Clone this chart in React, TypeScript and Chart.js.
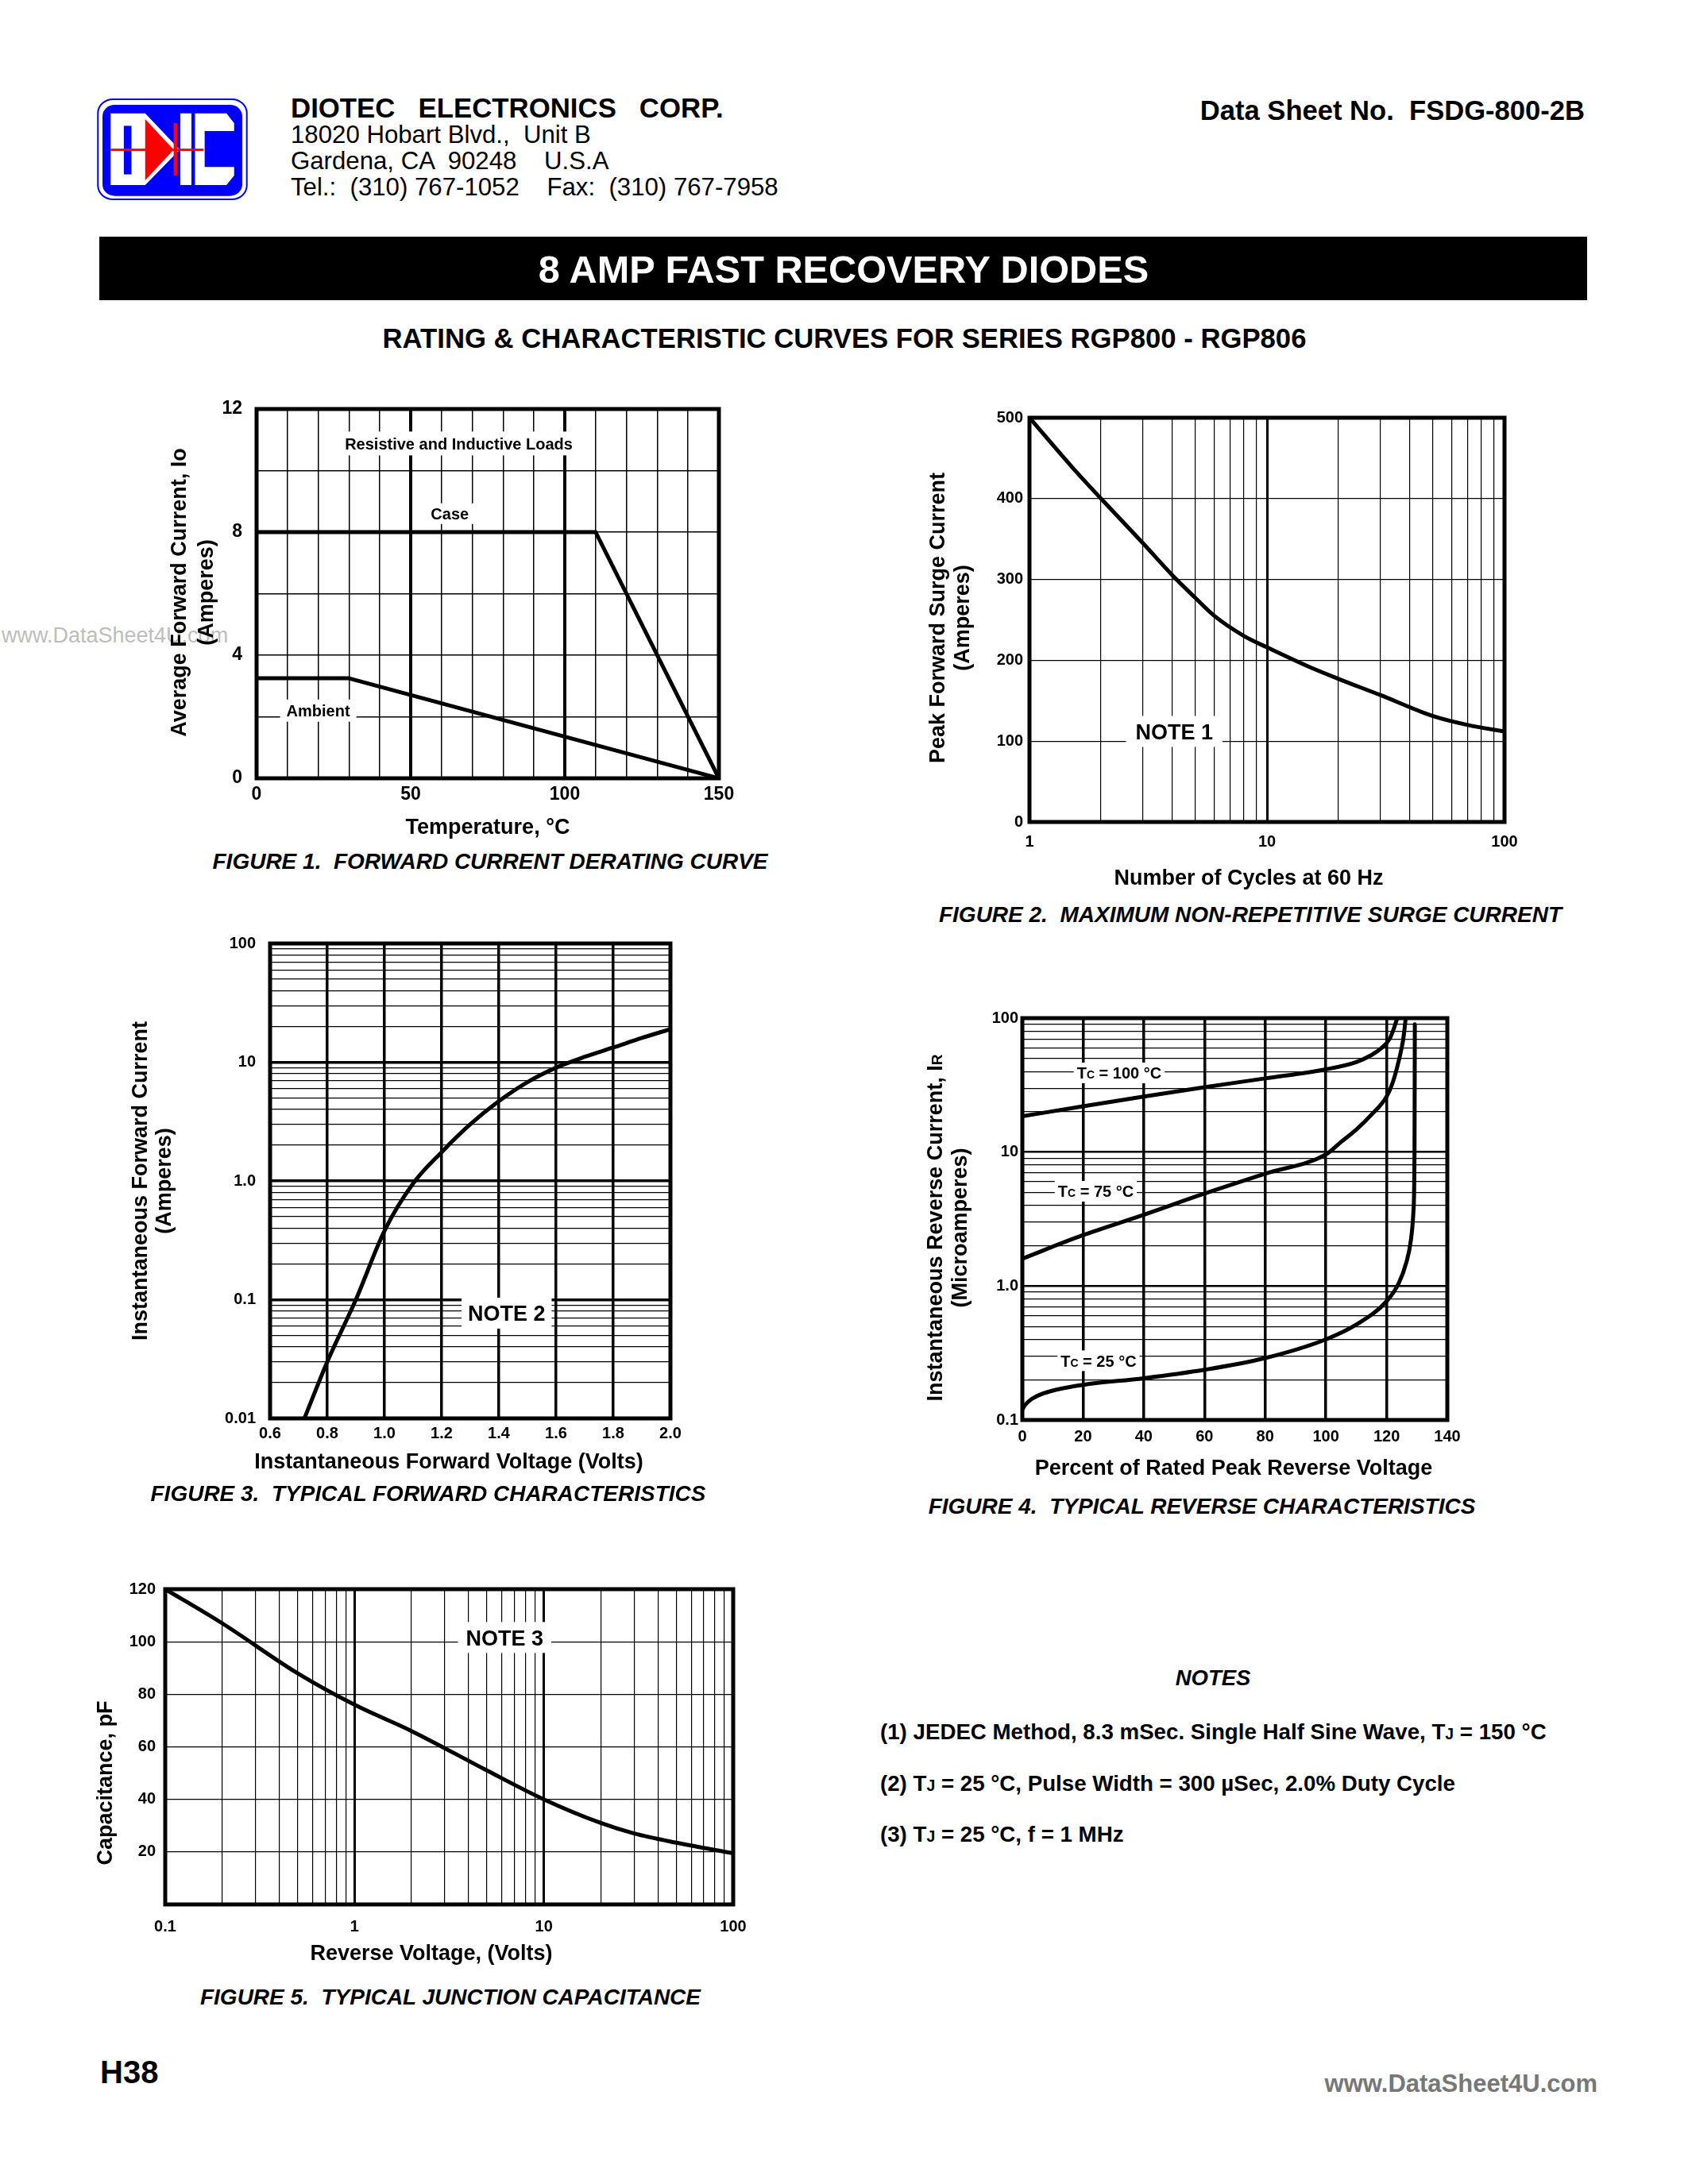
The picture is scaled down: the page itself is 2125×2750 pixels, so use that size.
import React, { useEffect, useRef } from 'react';
import { Chart, registerables } from 'chart.js';

Chart.register(...registerables);

const FONT = "'Liberation Sans', Arial, Helvetica, sans-serif";
Chart.defaults.font.family = FONT;
Chart.defaults.color = '#000';

// ---------------- Figure 1 : forward current derating ----------------
const fig1CaseTemp = [0, 110, 150];
const fig1CaseAmps = [8, 8, 0];
const fig1AmbientTemp = [0, 30, 150];
const fig1AmbientAmps = [3.25, 3.25, 0];
const fig1XGrid = [10, 20, 30, 40, 50, 60, 70, 80, 90, 100, 110, 120, 130, 140];
const fig1XMajor = [50, 100];
const fig1XLabelValues = [0, 50, 100, 150];
const fig1XLabelTexts = ['0', '50', '100', '150'];
const fig1YGrid = [2, 4, 6, 8, 10];
const fig1YLabelValues = [0, 4, 8, 12];
const fig1YLabelTexts = ['0', '4', '8', '12'];

// ---------------- Figure 2 : surge current ----------------
const fig2Cycles = [1, 1.5, 2, 3, 4, 5, 6, 8, 10, 15, 20, 30, 50, 70, 100];
const fig2Amps = [500, 440, 400, 345, 305, 277, 255, 230, 216, 192, 177, 157, 131, 120, 112];
const fig2XGrid = [2, 3, 4, 5, 6, 7, 8, 9, 10, 20, 30, 40, 50, 60, 70, 80, 90];
const fig2XMajor = [10];
const fig2XLabelValues = [1, 10, 100];
const fig2XLabelTexts = ['1', '10', '100'];
const fig2YGrid = [100, 200, 300, 400];
const fig2YLabelValues = [0, 100, 200, 300, 400, 500];
const fig2YLabelTexts = ['0', '100', '200', '300', '400', '500'];

// ---------------- Figure 3 : forward characteristics ----------------
const fig3Volts = [0.72, 0.8, 0.9, 1.0, 1.1, 1.2, 1.3, 1.4, 1.5, 1.6, 1.7, 1.8, 1.9, 2.0];
const fig3Amps = [0.01, 0.03, 0.1, 0.38, 0.95, 1.75, 3.0, 4.7, 6.8, 9.0, 11.1, 13.3, 16, 19];
const fig3XGrid = [0.8, 1.0, 1.2, 1.4, 1.6, 1.8];
const fig3XLabelValues = [0.6, 0.8, 1.0, 1.2, 1.4, 1.6, 1.8, 2.0];
const fig3XLabelTexts = ['0.6', '0.8', '1.0', '1.2', '1.4', '1.6', '1.8', '2.0'];
const fig3YGrid = [
  0.02, 0.03, 0.04, 0.05, 0.06, 0.07, 0.08, 0.09, 0.1,
  0.2, 0.3, 0.4, 0.5, 0.6, 0.7, 0.8, 0.9, 1,
  2, 3, 4, 5, 6, 7, 8, 9, 10,
  20, 30, 40, 50, 60, 70, 80, 90,
];
const fig3YMajor = [0.1, 1, 10];
const fig3YLabelValues = [0.01, 0.1, 1, 10, 100];
const fig3YLabelTexts = ['0.01', '0.1', '1.0', '10', '100'];

// ---------------- Figure 4 : reverse characteristics ----------------
const fig4T100Pct = [0, 20, 40, 60, 80, 100, 110, 115, 118, 121, 122.5, 123.5];
const fig4T100Ir = [18.5, 22, 26, 30.5, 35.5, 41.5, 47, 53, 59, 70, 85, 100];
const fig4T75Pct = [0, 20, 40, 60, 80, 100, 105, 110, 115, 120, 122, 124, 125.5, 126.3];
const fig4T75Ir = [1.6, 2.4, 3.4, 4.9, 6.9, 9.6, 11.9, 14.7, 19, 26, 33, 48, 70, 100];
const fig4T25Pct = [0, 1, 3, 6, 11, 20, 40, 60, 80, 100, 110, 120, 124, 126.5, 128, 128.8, 129.2, 129.3];
const fig4T25Ir = [0.12, 0.13, 0.143, 0.155, 0.168, 0.183, 0.205, 0.237, 0.29, 0.4, 0.515, 0.77, 1.05, 1.5, 2.2, 3.5, 10, 90];
const fig4XGrid = [20, 40, 60, 80, 100, 120];
const fig4XLabelValues = [0, 20, 40, 60, 80, 100, 120, 140];
const fig4XLabelTexts = ['0', '20', '40', '60', '80', '100', '120', '140'];
const fig4YGrid = [
  0.2, 0.3, 0.4, 0.5, 0.6, 0.7, 0.8, 0.9, 1,
  2, 3, 4, 5, 6, 7, 8, 9, 10,
  20, 30, 40, 50, 60, 70, 80, 90,
];
const fig4YMajor = [1, 10];
const fig4YLabelValues = [0.1, 1, 10, 100];
const fig4YLabelTexts = ['0.1', '1.0', '10', '100'];

// ---------------- Figure 5 : junction capacitance ----------------
const fig5Volts = [0.1, 0.2, 0.5, 1, 2, 5, 10, 20, 30, 50, 100];
const fig5Pf = [120, 107, 88, 76, 66, 51, 40, 31, 27, 23.5, 19.5];
const fig5XGrid = [
  0.2, 0.3, 0.4, 0.5, 0.6, 0.7, 0.8, 0.9, 1,
  2, 3, 4, 5, 6, 7, 8, 9, 10,
  20, 30, 40, 50, 60, 70, 80, 90,
];
const fig5XMajor = [1, 10];
const fig5XLabelValues = [0.1, 1, 10, 100];
const fig5XLabelTexts = ['0.1', '1', '10', '100'];
const fig5YGrid = [20, 40, 60, 80, 100];
const fig5YLabelValues = [20, 40, 60, 80, 100, 120];
const fig5YLabelTexts = ['20', '40', '60', '80', '100', '120'];

// ---------------- types & helpers ----------------
type Part = { t: string; small?: boolean };
type Ann = { x: number; y: number; parts: Part[]; size: number; padX: number; padY: number };
type TitleLine = { parts: Part[]; cx: number; cy: number; rot: boolean };
type Axis = {
  type: 'linear' | 'logarithmic';
  min: number; max: number;
  grid: number[]; major: number[];
  labelValues: number[]; labelTexts: string[];
  minorW: number; majorW: number;
  tickSize: number; tickPad: number;
};
type Series = { xs: number[]; ys: number[]; smooth: boolean };
type Fig = {
  box: [number, number, number, number];
  x: Axis; y: Axis;
  series: Series[];
  lineW: number; frameW: number;
  anns: Ann[];
  titles: TitleLine[];
  titleSize: number;
};

const near = (v: number, w: number) => Math.abs(v - w) <= 1e-9 * Math.max(1, Math.abs(w));
const zip = (xs: number[], ys: number[]) => xs.map((x, i) => ({ x, y: ys[i] }));

function measureParts(ctx: CanvasRenderingContext2D, parts: Part[], size: number) {
  const big = `bold ${size}px ${FONT}`;
  const small = `bold ${Math.round(size * 0.72)}px ${FONT}`;
  return parts.map((p) => {
    ctx.font = p.small ? small : big;
    return ctx.measureText(p.t).width;
  });
}

function drawParts(ctx: CanvasRenderingContext2D, parts: Part[], size: number, cx: number, cy: number) {
  const big = `bold ${size}px ${FONT}`;
  const small = `bold ${Math.round(size * 0.72)}px ${FONT}`;
  const ws = measureParts(ctx, parts, size);
  const total = ws.reduce((a, b) => a + b, 0);
  let x = cx - total / 2;
  const base = cy + size * 0.36;
  ctx.textAlign = 'left';
  ctx.textBaseline = 'alphabetic';
  parts.forEach((p, i) => {
    ctx.font = p.small ? small : big;
    ctx.fillText(p.t, x, base);
    x += ws[i];
  });
  return total;
}

function scaleOptions(a: Axis, isX: boolean, fixed: number) {
  const all = Array.from(new Set([a.min, ...a.grid, ...a.labelValues, a.max])).sort((p, q) => p - q);
  const isGrid = (v: number) => a.grid.some((g) => near(v, g));
  const isMajor = (v: number) => a.major.some((g) => near(v, g));
  return {
    type: a.type,
    min: a.min,
    max: a.max,
    position: isX ? 'bottom' : 'left',
    afterBuildTicks: (s: any) => {
      s.ticks = all.map((v) => ({ value: v }));
    },
    afterFit: (s: any) => {
      if (isX) {
        s.height = fixed;
        s.paddingLeft = 0;
        s.paddingRight = 0;
      } else {
        s.width = fixed;
        s.paddingTop = 0;
        s.paddingBottom = 0;
      }
    },
    grid: {
      drawTicks: false,
      color: (c: any) => (c.tick && isGrid(c.tick.value) ? '#000' : 'rgba(0,0,0,0)'),
      lineWidth: (c: any) => {
        if (!c.tick) return 0;
        const v = c.tick.value;
        if (isMajor(v)) return a.majorW;
        if (isGrid(v)) return a.minorW;
        return 0;
      },
    },
    border: { display: false },
    ticks: {
      autoSkip: false,
      maxRotation: 0,
      minRotation: 0,
      padding: a.tickPad,
      color: '#000',
      font: { family: FONT, size: a.tickSize, weight: 'bold' },
      callback: (v: any) => {
        const i = a.labelValues.findIndex((w) => near(Number(v), w));
        return i >= 0 ? a.labelTexts[i] : '';
      },
    },
    title: { display: false },
  };
}

function Figure({ fig }: { fig: Fig }) {
  const ref = useRef<HTMLCanvasElement>(null);
  const [L, T, R, B] = fig.box;
  const rotTitles = fig.titles.filter((t) => t.rot);
  const horTitles = fig.titles.filter((t) => !t.rot);
  const canvasLeft = Math.floor(Math.min(L - 60, ...rotTitles.map((t) => t.cx - fig.titleSize)));
  const padTop = 24;
  const padRight = 40;
  const canvasTop = T - padTop;
  const canvasBottom = Math.ceil(Math.max(B + 50, ...horTitles.map((t) => t.cy + fig.titleSize)));
  const yAxisW = L - canvasLeft;
  const xAxisH = canvasBottom - B;
  const width = R + padRight - canvasLeft;
  const height = canvasBottom - canvasTop;

  useEffect(() => {
    if (!ref.current) return;
    const plugin = {
      id: 'sheetDecor',
      beforeDatasetsDraw(chart: any) {
        const ctx = chart.ctx as CanvasRenderingContext2D;
        const sx = chart.scales.x;
        const sy = chart.scales.y;
        ctx.save();
        for (const a of fig.anns) {
          const px = sx.getPixelForValue(a.x);
          const py = sy.getPixelForValue(a.y);
          const w = measureParts(ctx, a.parts, a.size).reduce((p, q) => p + q, 0);
          ctx.fillStyle = '#fff';
          ctx.fillRect(px - w / 2 - a.padX, py - a.size / 2 - a.padY, w + 2 * a.padX, a.size + 2 * a.padY);
          ctx.fillStyle = '#000';
          drawParts(ctx, a.parts, a.size, px, py);
        }
        ctx.restore();
      },
      afterDatasetsDraw(chart: any) {
        const ctx = chart.ctx as CanvasRenderingContext2D;
        const c = chart.chartArea;
        ctx.save();
        ctx.strokeStyle = '#000';
        ctx.lineWidth = fig.frameW;
        ctx.lineJoin = 'miter';
        ctx.strokeRect(c.left, c.top, c.right - c.left, c.bottom - c.top);
        ctx.restore();
      },
      afterDraw(chart: any) {
        const ctx = chart.ctx as CanvasRenderingContext2D;
        ctx.save();
        ctx.fillStyle = '#000';
        for (const t of fig.titles) {
          ctx.save();
          ctx.translate(t.cx - canvasLeft, t.cy - canvasTop);
          if (t.rot) ctx.rotate(-Math.PI / 2);
          drawParts(ctx, t.parts, fig.titleSize, 0, 0);
          ctx.restore();
        }
        ctx.restore();
      },
    };
    const chart = new Chart(ref.current, {
      type: 'scatter',
      data: {
        datasets: fig.series.map((s) => ({
          data: zip(s.xs, s.ys),
          showLine: true,
          borderColor: '#000',
          backgroundColor: '#000',
          borderWidth: fig.lineW,
          pointRadius: 0,
          pointHoverRadius: 0,
          tension: s.smooth ? 0.4 : 0,
          cubicInterpolationMode: s.smooth ? 'monotone' : 'default',
          borderJoinStyle: 'round',
          borderCapStyle: 'round',
        })),
      } as any,
      options: {
        responsive: false,
        maintainAspectRatio: false,
        animation: false,
        devicePixelRatio: 1,
        events: [],
        layout: { padding: { top: padTop, right: padRight, left: 0, bottom: 0 } },
        plugins: { legend: { display: false }, tooltip: { enabled: false }, title: { display: false } },
        scales: {
          x: scaleOptions(fig.x, true, xAxisH),
          y: scaleOptions(fig.y, false, yAxisW),
        },
      } as any,
      plugins: [plugin as any],
    });
    return () => chart.destroy();
  }, []);

  return (
    <canvas
      ref={ref}
      width={width}
      height={height}
      style={{ position: 'absolute', left: canvasLeft, top: canvasTop, width, height }}
    />
  );
}

// ---------------- figure layouts ----------------
const P = (t: string): Part[] => [{ t }];

const fig1: Fig = {
  box: [323, 515, 905, 980],
  x: { type: 'linear', min: 0, max: 150, grid: fig1XGrid, major: fig1XMajor, labelValues: fig1XLabelValues, labelTexts: fig1XLabelTexts, minorW: 1.5, majorW: 4, tickSize: 23, tickPad: 7 },
  y: { type: 'linear', min: 0, max: 12, grid: fig1YGrid, major: [], labelValues: fig1YLabelValues, labelTexts: fig1YLabelTexts, minorW: 1.5, majorW: 1.5, tickSize: 23, tickPad: 18 },
  series: [
    { xs: fig1CaseTemp, ys: fig1CaseAmps, smooth: false },
    { xs: fig1AmbientTemp, ys: fig1AmbientAmps, smooth: false },
  ],
  lineW: 5, frameW: 5,
  anns: [
    { x: 65.6, y: 10.88, parts: P('Resistive and Inductive Loads'), size: 20, padX: 6, padY: 5 },
    { x: 62.7, y: 8.6, parts: P('Case'), size: 20, padX: 6, padY: 3 },
    { x: 20, y: 2.2, parts: P('Ambient'), size: 20, padX: 8, padY: 4 },
  ],
  titles: [
    { parts: P('Temperature, °C'), cx: 614, cy: 1040, rot: false },
    { parts: P('Average Forward Current, Io'), cx: 224, cy: 746, rot: true },
    { parts: P('(Amperes)'), cx: 258, cy: 746, rot: true },
  ],
  titleSize: 27,
};

const fig2: Fig = {
  box: [1296, 526, 1894, 1035],
  x: { type: 'logarithmic', min: 1, max: 100, grid: fig2XGrid, major: fig2XMajor, labelValues: fig2XLabelValues, labelTexts: fig2XLabelTexts, minorW: 1.2, majorW: 3, tickSize: 20, tickPad: 13 },
  y: { type: 'linear', min: 0, max: 500, grid: fig2YGrid, major: [], labelValues: fig2YLabelValues, labelTexts: fig2YLabelTexts, minorW: 1.2, majorW: 1.2, tickSize: 20, tickPad: 8 },
  series: [{ xs: fig2Cycles, ys: fig2Amps, smooth: true }],
  lineW: 5, frameW: 5,
  anns: [{ x: 4.07, y: 112, parts: P('NOTE 1'), size: 27, padX: 12, padY: 6 }],
  titles: [
    { parts: P('Number of Cycles at 60 Hz'), cx: 1572, cy: 1104, rot: false },
    { parts: P('Peak Forward Surge Current'), cx: 1179, cy: 778, rot: true },
    { parts: P('(Amperes)'), cx: 1210, cy: 778, rot: true },
  ],
  titleSize: 27,
};

const fig3: Fig = {
  box: [340, 1188, 844, 1786],
  x: { type: 'linear', min: 0.6, max: 2.0, grid: fig3XGrid, major: fig3XGrid, labelValues: fig3XLabelValues, labelTexts: fig3XLabelTexts, minorW: 3.5, majorW: 3.5, tickSize: 20, tickPad: 7 },
  y: { type: 'logarithmic', min: 0.01, max: 100, grid: fig3YGrid, major: fig3YMajor, labelValues: fig3YLabelValues, labelTexts: fig3YLabelTexts, minorW: 1.2, majorW: 3.5, tickSize: 20, tickPad: 18 },
  series: [{ xs: fig3Volts, ys: fig3Amps, smooth: true }],
  lineW: 5, frameW: 5,
  anns: [{ x: 1.427, y: 0.077, parts: P('NOTE 2'), size: 27, padX: 8, padY: 6 }],
  titles: [
    { parts: P('Instantaneous Forward Voltage (Volts)'), cx: 565, cy: 1839, rot: false },
    { parts: P('Instantaneous Forward Current'), cx: 175, cy: 1487, rot: true },
    { parts: P('(Amperes)'), cx: 205, cy: 1487, rot: true },
  ],
  titleSize: 27,
};

const tc = (rest: string): Part[] => [{ t: 'T' }, { t: 'C', small: true }, { t: rest }];

const fig4: Fig = {
  box: [1287, 1282, 1822, 1788],
  x: { type: 'linear', min: 0, max: 140, grid: fig4XGrid, major: fig4XGrid, labelValues: fig4XLabelValues, labelTexts: fig4XLabelTexts, minorW: 3.5, majorW: 3.5, tickSize: 20, tickPad: 9 },
  y: { type: 'logarithmic', min: 0.1, max: 100, grid: fig4YGrid, major: fig4YMajor, labelValues: fig4YLabelValues, labelTexts: fig4YLabelTexts, minorW: 1.2, majorW: 2.5, tickSize: 20, tickPad: 5 },
  series: [
    { xs: fig4T100Pct, ys: fig4T100Ir, smooth: true },
    { xs: fig4T75Pct, ys: fig4T75Ir, smooth: true },
    { xs: fig4T25Pct, ys: fig4T25Ir, smooth: true },
  ],
  lineW: 5, frameW: 5,
  anns: [
    { x: 31.9, y: 39, parts: tc(' = 100 °C'), size: 20, padX: 4, padY: 3 },
    { x: 24.2, y: 5.1, parts: tc(' = 75 °C'), size: 20, padX: 4, padY: 3 },
    { x: 25.1, y: 0.277, parts: tc(' = 25 °C'), size: 20, padX: 4, padY: 3 },
  ],
  titles: [
    { parts: P('Percent of Rated Peak Reverse Voltage'), cx: 1553, cy: 1847, rot: false },
    { parts: [{ t: 'Instantaneous Reverse Current, I' }, { t: 'R', small: true }], cx: 1176, cy: 1546, rot: true },
    { parts: P('(Microamperes)'), cx: 1207, cy: 1546, rot: true },
  ],
  titleSize: 27,
};

const fig5: Fig = {
  box: [208, 2001, 923, 2398],
  x: { type: 'logarithmic', min: 0.1, max: 100, grid: fig5XGrid, major: fig5XMajor, labelValues: fig5XLabelValues, labelTexts: fig5XLabelTexts, minorW: 1.2, majorW: 3, tickSize: 20, tickPad: 16 },
  y: { type: 'linear', min: 0, max: 120, grid: fig5YGrid, major: [], labelValues: fig5YLabelValues, labelTexts: fig5YLabelTexts, minorW: 1.2, majorW: 1.2, tickSize: 20, tickPad: 12 },
  series: [{ xs: fig5Volts, ys: fig5Pf, smooth: true }],
  lineW: 5, frameW: 5,
  anns: [{ x: 6.2, y: 101.6, parts: P('NOTE 3'), size: 27, padX: 10, padY: 6 }],
  titles: [
    { parts: P('Reverse Voltage, (Volts)'), cx: 543, cy: 2458, rot: false },
    { parts: P('Capacitance, pF'), cx: 131, cy: 2245, rot: true },
  ],
  titleSize: 27,
};

// ---------------- page text ----------------
function Txt(props: {
  x: number; y: number; size: number; bold?: boolean; italic?: boolean;
  align?: 'left' | 'center' | 'right'; color?: string; children: React.ReactNode;
}) {
  const { x, y, size, bold = true, italic = false, align = 'left', color = '#000', children } = props;
  const tx = align === 'center' ? '-50%' : align === 'right' ? '-100%' : '0';
  return (
    <div
      style={{
        position: 'absolute', left: x, top: y - size / 2, fontSize: size, lineHeight: `${size}px`,
        fontWeight: bold ? 700 : 400, fontStyle: italic ? 'italic' : 'normal', color,
        whiteSpace: 'pre', transform: `translateX(${tx})`, fontFamily: FONT,
      }}
    >
      {children}
    </div>
  );
}

function Logo() {
  return (
    <svg
      style={{ position: 'absolute', left: 122, top: 124 }}
      width={190}
      height={128}
      viewBox="35 72 297 383"
      preserveAspectRatio="none"
    >
      <rect x={37} y={75} width={293} height={377} rx={30} ry={52} fill="#fff" stroke="#0000ff" strokeWidth={2} vectorEffect="non-scaling-stroke" />
      <rect x={46} y={96} width={275} height={343} rx={24} ry={42} fill="#0000ff" />
      <polygon points="62,128 130,128 198,265 130,398 62,398" fill="#fff" />
      <polygon points="130,150 186,265 130,380" fill="#ff0000" />
      <rect x={88} y={175} width={15} height={183} fill="#0000ff" />
      <rect x={199} y={128} width={22} height={270} fill="#fff" />
      <polygon points="228,128 290,128 305,165 305,195 247,195 247,330 305,330 305,362 290,398 228,398" fill="#fff" />
      <rect x={62} y={261} width={183} height={9} fill="#ff0000" />
      <rect x={186} y={165} width={7} height={197} fill="#ff0000" />
    </svg>
  );
}

const small = (t: string) => <span style={{ fontSize: '0.7em' }}>{t}</span>;

export default function App() {
  return (
    <div
      style={{
        position: 'absolute', left: 0, top: 0, width: 2125, height: 2750,
        background: '#fff', overflow: 'hidden', fontFamily: FONT,
      }}
    >
      <Txt x={2} y={800} size={27} bold={false} color="#bdbdbd">www.DataSheet4U.com</Txt>

      <Logo />
      <Txt x={366} y={136} size={34.8}>DIOTEC   ELECTRONICS   CORP.</Txt>
      <Txt x={366} y={170} size={31.2} bold={false}>18020 Hobart Blvd.,  Unit B</Txt>
      <Txt x={366} y={203} size={31.2} bold={false}>Gardena, CA  90248    U.S.A</Txt>
      <Txt x={366} y={236} size={31.2} bold={false}>Tel.:  (310) 767-1052    Fax:  (310) 767-7958</Txt>
      <Txt x={1995} y={139} size={34.6} align="right">Data Sheet No.  FSDG-800-2B</Txt>

      <div style={{ position: 'absolute', left: 125, top: 298, width: 1873, height: 80, background: '#000' }} />
      <Txt x={1062} y={339} size={48.7} align="center" color="#fff">8 AMP FAST RECOVERY DIODES</Txt>
      <Txt x={1063} y={426} size={34.7} align="center">RATING &amp; CHARACTERISTIC CURVES FOR SERIES RGP800 - RGP806</Txt>

      <Figure fig={fig1} />
      <Figure fig={fig2} />
      <Figure fig={fig3} />
      <Figure fig={fig4} />
      <Figure fig={fig5} />

      <Txt x={617} y={1085} size={28} italic align="center">FIGURE 1.  FORWARD CURRENT DERATING CURVE</Txt>
      <Txt x={1574} y={1152} size={28} italic align="center">FIGURE 2.  MAXIMUM NON-REPETITIVE SURGE CURRENT</Txt>
      <Txt x={539} y={1881} size={28} italic align="center">FIGURE 3.  TYPICAL FORWARD CHARACTERISTICS</Txt>
      <Txt x={1513} y={1897} size={28} italic align="center">FIGURE 4.  TYPICAL REVERSE CHARACTERISTICS</Txt>
      <Txt x={567} y={2515} size={28} italic align="center">FIGURE 5.  TYPICAL JUNCTION CAPACITANCE</Txt>

      <Txt x={1527} y={2113} size={27.5} italic align="center">NOTES</Txt>
      <Txt x={1108} y={2181} size={27.7}>(1) JEDEC Method, 8.3 mSec. Single Half Sine Wave, T{small('J')} = 150 °C</Txt>
      <Txt x={1108} y={2246} size={27.7}>(2) T{small('J')} = 25 °C, Pulse Width = 300 µSec, 2.0% Duty Cycle</Txt>
      <Txt x={1108} y={2310} size={27.7}>(3) T{small('J')} = 25 °C, f = 1 MHz</Txt>

      <Txt x={126} y={2609} size={40}>H38</Txt>
      <Txt x={2011} y={2623} size={31} align="right" color="#777">www.DataSheet4U.com</Txt>
    </div>
  );
}
